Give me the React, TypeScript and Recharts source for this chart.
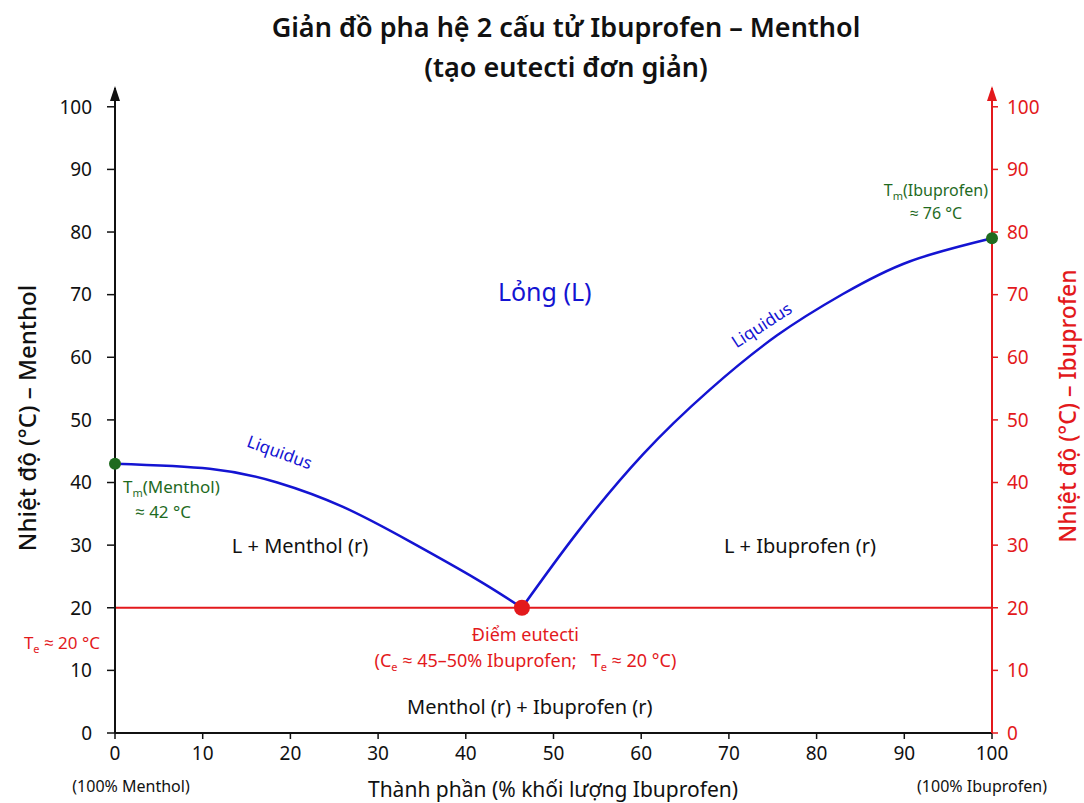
import { ComposedChart, Line, XAxis, YAxis, ReferenceLine, ReferenceDot, Scatter } from 'recharts'

// liquidus, menthol side (x = % ibuprofen, y = °C)
const leftX = [0, 10.8, 18.5, 26, 33.6, 41.3, 46.4]
const leftY = [43, 42.2, 40.0, 36.1, 30.6, 24.5, 20]
// liquidus, ibuprofen side
const rightX = [46.4, 52.7, 60.2, 67.8, 75.5, 83, 90.6, 100]
const rightY = [20, 32, 44.5, 54.8, 63.5, 70.1, 75.3, 79]

const meltX = [0, 100]
const meltY = [43, 79]
const eutecticX = [46.4]
const eutecticY = [20]
const eutecticT = 20

const xTicks = [0, 10, 20, 30, 40, 50, 60, 70, 80, 90, 100]
const yTicks = [0, 10, 20, 30, 40, 50, 60, 70, 80, 90, 100]

const leftData = leftX.map((x, i) => ({ x, y: leftY[i] }))
const rightData = rightX.map((x, i) => ({ x, y: rightY[i] }))
const meltData = meltX.map((x, i) => ({ x, y: meltY[i] }))
const eutecticData = eutecticX.map((x, i) => ({ x, y: eutecticY[i] }))

const FONT = '"Noto Sans", "Open Sans", sans-serif'
const BLUE = '#1414d2'
const RED = '#e3191c'
const GREEN = '#1f6b1f'

const note = (render: (cx: number, cy: number) => any) => (p: any) => render(p.cx, p.cy)

export default function App() {
  return (
    <div style={{ position: 'absolute', left: 0, top: 0, width: 1084, height: 803, background: '#fff', fontFamily: FONT }}>
      <svg width={1084} height={803} style={{ position: 'absolute', left: 0, top: 0 }}>
        <text x={566} y={37} textAnchor="middle" fontSize={27} fontWeight={600} fill="#111" fontFamily={FONT}>
          Giản đồ pha hệ 2 cấu tử Ibuprofen – Menthol
        </text>
        <text x={566} y={77} textAnchor="middle" fontSize={27} fontWeight={600} fill="#111" fontFamily={FONT}>
          (tạo eutecti đơn giản)
        </text>
        <text x={26} y={418} transform="rotate(-90 26 418)" textAnchor="middle" dominantBaseline="central" fontSize={24} fontWeight={500} fill="#111" fontFamily={FONT}>
          Nhiệt độ (°C) – Menthol
        </text>
        <text x={1067} y={406} transform="rotate(-90 1067 406)" textAnchor="middle" dominantBaseline="central" fontSize={23} fontWeight={500} fill={RED} fontFamily={FONT}>
          Nhiệt độ (°C) – Ibuprofen
        </text>
        <text x={553} y={797} textAnchor="middle" fontSize={21} fill="#111" fontFamily={FONT}>
          Thành phần (% khối lượng Ibuprofen)
        </text>
        <text x={131} y={792} textAnchor="middle" fontSize={16} fill="#111" fontFamily={FONT}>(100% Menthol)</text>
        <text x={982} y={792} textAnchor="middle" fontSize={16} fill="#111" fontFamily={FONT}>(100% Ibuprofen)</text>
      </svg>
      <div style={{ position: 'absolute', left: 0, top: 0 }}>
        <ComposedChart width={1084} height={803} margin={{ top: 88, right: 32, bottom: 40, left: 55 }}>
          <XAxis
            type="number"
            dataKey="x"
            domain={[0, 100]}
            ticks={xTicks}
            height={30}
            tickSize={6}
            tickMargin={8}
            axisLine={{ stroke: '#111', strokeWidth: 2 }}
            tickLine={{ stroke: '#111', strokeWidth: 1.5 }}
            tick={{ fontSize: 19, fill: '#111', fontFamily: FONT }}
          />
          <YAxis
            yAxisId="left"
            type="number"
            domain={[0, 103]}
            ticks={yTicks}
            width={60}
            tickSize={8}
            tickMargin={15}
            axisLine={{ stroke: '#111', strokeWidth: 2 }}
            tickLine={{ stroke: '#111', strokeWidth: 1.5 }}
            tick={{ fontSize: 19, fill: '#111', fontFamily: FONT }}
          />
          <YAxis
            yAxisId="right"
            orientation="right"
            type="number"
            domain={[0, 103]}
            ticks={yTicks}
            width={60}
            tickSize={6}
            tickMargin={9}
            allowDataOverflow
            axisLine={{ stroke: RED, strokeWidth: 2 }}
            tickLine={{ stroke: RED, strokeWidth: 1.5 }}
            tick={{ fontSize: 19, fill: RED, fontFamily: FONT, textAnchor: 'start' }}
          />

          <ReferenceLine yAxisId="left" y={eutecticT} stroke={RED} strokeWidth={2} />

          <Line yAxisId="left" data={leftData} dataKey="y" type="natural" stroke={BLUE} strokeWidth={2.5} dot={false} isAnimationActive={false} />
          <Line yAxisId="left" data={rightData} dataKey="y" type="natural" stroke={BLUE} strokeWidth={2.5} dot={false} isAnimationActive={false} />

          <Scatter
            yAxisId="left"
            data={meltData}
            dataKey="y"
            isAnimationActive={false}
            shape={(p: any) => <circle cx={p.cx} cy={p.cy} r={6} fill={GREEN} />}
          />
          <Scatter
            yAxisId="left"
            data={eutecticData}
            dataKey="y"
            isAnimationActive={false}
            shape={(p: any) => <circle cx={p.cx} cy={p.cy} r={8} fill={RED} />}
          />

          {/* axis arrows */}
          <ReferenceDot yAxisId="left" x={0} y={103} r={0} ifOverflow="visible"
            shape={note((cx, cy) => <path d={`M${cx},${cy - 2} L${cx - 5},${cy + 13} L${cx + 5},${cy + 13} Z`} fill="#111" />)} />
          <ReferenceDot yAxisId="right" x={100} y={103} r={0} ifOverflow="visible"
            shape={note((cx, cy) => <path d={`M${cx},${cy - 2} L${cx - 5},${cy + 13} L${cx + 5},${cy + 13} Z`} fill={RED} />)} />

          {/* annotations */}
          <ReferenceDot yAxisId="left" x={49} y={70.6} r={0} ifOverflow="visible"
            shape={note((cx, cy) => <text x={cx} y={cy} textAnchor="middle" dominantBaseline="central" fontSize={25} fill={BLUE} fontFamily={FONT}>Lỏng (L)</text>)} />
          <ReferenceDot yAxisId="left" x={18.8} y={44.9} r={0} ifOverflow="visible"
            shape={note((cx, cy) => <text x={cx} y={cy} transform={`rotate(20 ${cx} ${cy})`} textAnchor="middle" dominantBaseline="central" fontSize={17} fill={BLUE} fontFamily={FONT}>Liquidus</text>)} />
          <ReferenceDot yAxisId="left" x={73.7} y={65.2} r={0} ifOverflow="visible"
            shape={note((cx, cy) => <text x={cx} y={cy} transform={`rotate(-33 ${cx} ${cy})`} textAnchor="middle" dominantBaseline="central" fontSize={17} fill={BLUE} fontFamily={FONT}>Liquidus</text>)} />
          <ReferenceDot yAxisId="left" x={21.1} y={29.9} r={0} ifOverflow="visible"
            shape={note((cx, cy) => <text x={cx} y={cy} textAnchor="middle" dominantBaseline="central" fontSize={20} fill="#111" fontFamily={FONT}>L + Menthol (r)</text>)} />
          <ReferenceDot yAxisId="left" x={78.1} y={30} r={0} ifOverflow="visible"
            shape={note((cx, cy) => <text x={cx} y={cy} textAnchor="middle" dominantBaseline="central" fontSize={20} fill="#111" fontFamily={FONT}>L + Ibuprofen (r)</text>)} />
          <ReferenceDot yAxisId="left" x={47.3} y={4.2} r={0} ifOverflow="visible"
            shape={note((cx, cy) => <text x={cx} y={cy} textAnchor="middle" dominantBaseline="central" fontSize={20} fill="#111" fontFamily={FONT}>Menthol (r) + Ibuprofen (r)</text>)} />
          <ReferenceDot yAxisId="left" x={46.8} y={15.8} r={0} ifOverflow="visible"
            shape={note((cx, cy) => <text x={cx} y={cy} textAnchor="middle" dominantBaseline="central" fontSize={18} fill={RED} fontFamily={FONT}>Điểm eutecti</text>)} />
          <ReferenceDot yAxisId="left" x={46.8} y={11.5} r={0} ifOverflow="visible"
            shape={note((cx, cy) => (
              <text x={cx} y={cy + 6} textAnchor="middle" fontSize={18} fill={RED} fontFamily={FONT} style={{ whiteSpace: 'pre' }}>
                (C<tspan fontSize={11} dy={4}>e</tspan><tspan dy={-4}> ≈ 45–50% Ibuprofen;   T</tspan>
                <tspan fontSize={11} dy={4}>e</tspan><tspan dy={-4}> ≈ 20 °C)</tspan>
              </text>
            ))} />
          <ReferenceDot yAxisId="left" x={0} y={14.4} r={0} ifOverflow="visible"
            shape={note((cx, cy) => (
              <text x={cx - 15} y={cy + 6} textAnchor="end" fontSize={17} fill={RED} fontFamily={FONT}>
                T<tspan fontSize={11} dy={4}>e</tspan><tspan dy={-4}> ≈ 20 °C</tspan>
              </text>
            ))} />
          <ReferenceDot yAxisId="left" x={0} y={39.3} r={0} ifOverflow="visible"
            shape={note((cx, cy) => (
              <text x={cx + 8} y={cy + 6} textAnchor="start" fontSize={17} fill={GREEN} fontFamily={FONT}>
                T<tspan fontSize={11} dy={4}>m</tspan><tspan dy={-4}>(Menthol)</tspan>
              </text>
            ))} />
          <ReferenceDot yAxisId="left" x={0} y={35.3} r={0} ifOverflow="visible"
            shape={note((cx, cy) => <text x={cx + 20} y={cy + 6} textAnchor="start" fontSize={17} fill={GREEN} fontFamily={FONT}>≈ 42 °C</text>)} />
          <ReferenceDot yAxisId="left" x={93.6} y={86.7} r={0} ifOverflow="visible"
            shape={note((cx, cy) => (
              <text x={cx} y={cy + 6} textAnchor="middle" fontSize={16} fill={GREEN} fontFamily={FONT}>
                T<tspan fontSize={11} dy={4}>m</tspan><tspan dy={-4}>(Ibuprofen)</tspan>
              </text>
            ))} />
          <ReferenceDot yAxisId="left" x={93.6} y={83.1} r={0} ifOverflow="visible"
            shape={note((cx, cy) => <text x={cx} y={cy + 6} textAnchor="middle" fontSize={16} fill={GREEN} fontFamily={FONT}>≈ 76 °C</text>)} />
        </ComposedChart>
      </div>
    </div>
  )
}
